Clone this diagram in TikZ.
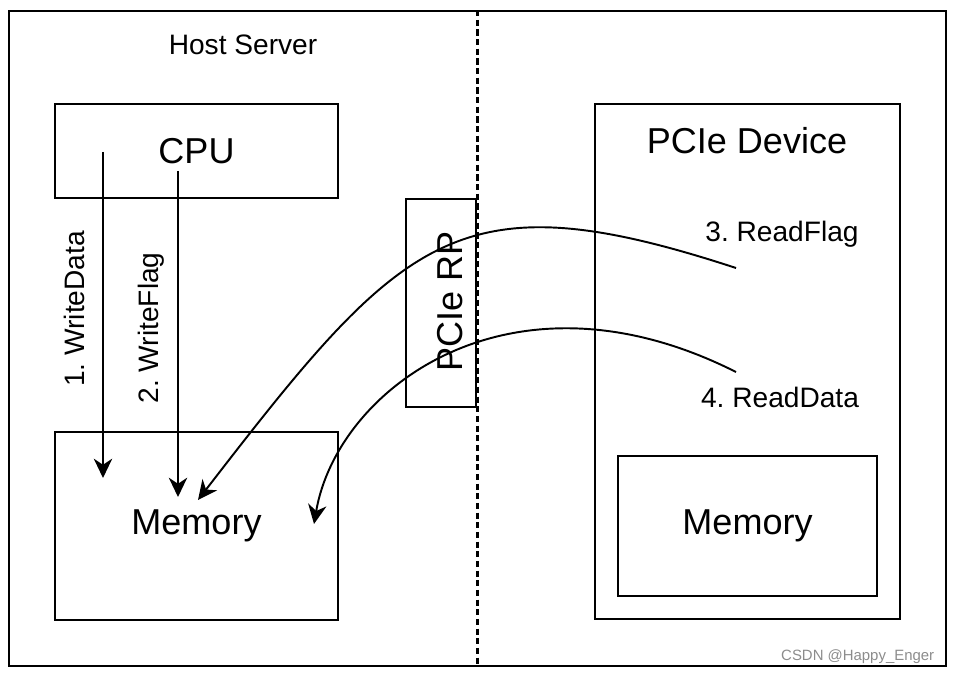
\documentclass[tikz,border=0pt]{standalone}
\usepackage{fontspec}
\setmainfont{Liberation Sans}
\usetikzlibrary{arrows.meta}
\frenchspacing

\begin{document}
\begin{tikzpicture}[x=0.02cm,y=-0.02cm,line width=1.1pt]
\tikzstyle{block}=[draw,rectangle,inner sep=0pt]
\tikzstyle{big}=[font=\fontsize{20.5}{24}\selectfont]
\tikzstyle{small}=[font=\fontsize{16}{19}\selectfont]
\tikzstyle{flow}=[-{Stealth[length=11pt,width=10.5pt,inset=3.5pt]}]
\useasboundingbox (0,0) rectangle (955,675);
% host side
\node [block,minimum width=18.74cm,minimum height=13.1cm] (server) at (477.5,338.5) {};
\node [small] (host) at (243,45) {Host Server};
\node [block,big,minimum width=5.66cm,minimum height=1.88cm] (cpu) at (196.5,151) {CPU};
\node [block,big,minimum width=5.66cm,minimum height=3.76cm] (hostmem) at (196.5,526) {Memory};
\node [block,minimum width=1.4cm,minimum height=4.16cm] (rp) at (441,303) {};
\node [big,rotate=90] (rplabel) at (450,301) {PCIe RP};
% device side
\node [block,minimum width=6.1cm,minimum height=10.3cm] (dev) at (747.5,361.5) {};
\node [big] (devlabel) at (747,141) {PCIe Device};
\node [block,big,minimum width=5.18cm,minimum height=2.8cm] (devmem) at (747.5,526) {Memory};
\draw [line width=1.4pt,dash pattern=on 3.5pt off 2pt] (server.north) -- (server.south);
% flows
\coordinate (wd1) at (103,152);
\coordinate (wd2) at (103,478);
\coordinate (wf1) at (178,171);
\coordinate (wf2) at (178,497);
\coordinate (rf1) at (736,268);
\coordinate (rf2) at (198,500);
\coordinate (rd1) at (736,372);
\coordinate (rd2) at (314,524);
\node [small,rotate=90] (wdlabel) at (74,309) {1. WriteData};
\node [small,rotate=90] (wflabel) at (151,328) {2. WriteFlag};
\node [small] (rflabel) at (782,234) {3. ReadFlag};
\node [small] (rdlabel) at (780,397) {4. ReadData};
\draw [flow] (wd1) -- (wd2);
\draw [flow] (wf1) -- (wf2);
\draw [flow] (rf1) .. controls (458,177) and (404,233) .. (rf2);
\draw [flow] (rd1) .. controls (510,258) and (337,389) .. (rd2);
\node [anchor=east,text=black!45,font=\fontsize{8.5}{10}\selectfont] (mark) at (941,657) {CSDN @Happy\_Enger};
\end{tikzpicture}
\end{document}
